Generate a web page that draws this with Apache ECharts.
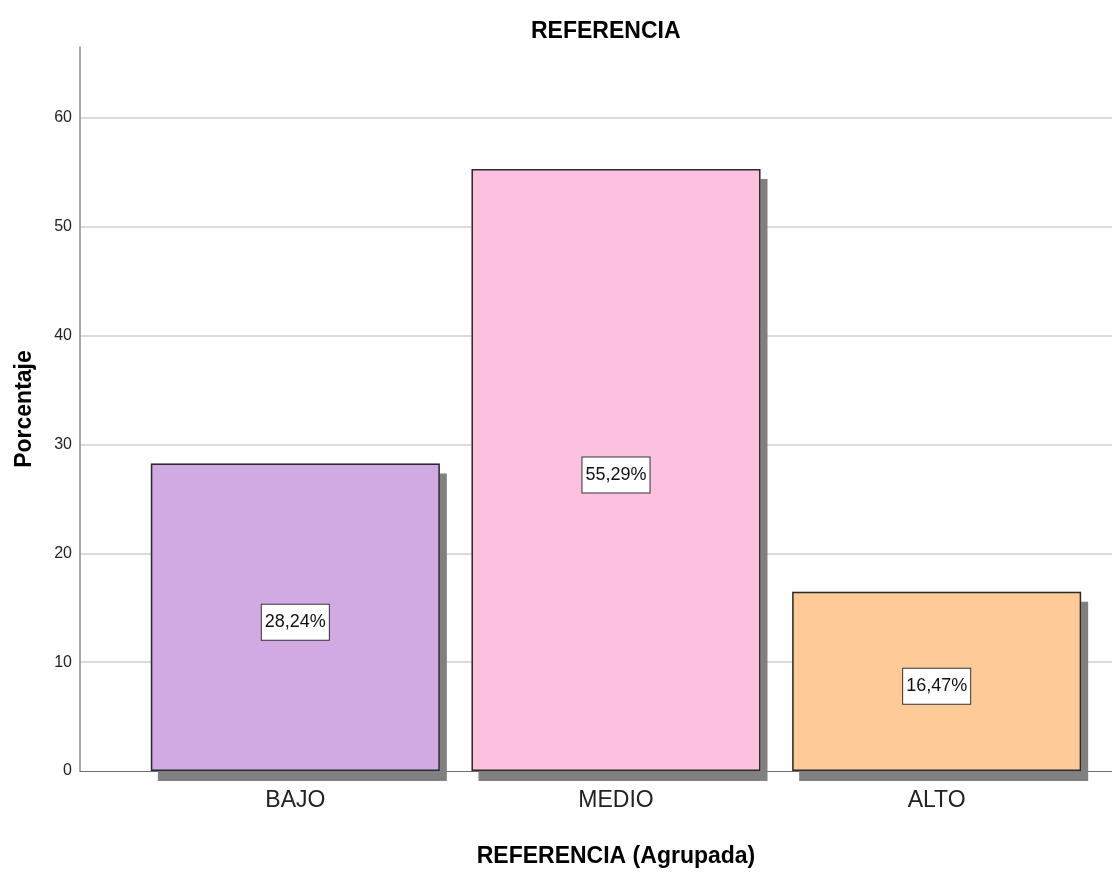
<!DOCTYPE html>
<html>
<head>
<meta charset="utf-8">
<title>REFERENCIA</title>
<script src="https://cdn.jsdelivr.net/npm/echarts@6/dist/echarts.min.js"></script>
<style>
  html, body { margin: 0; padding: 0; background: #fff; }
  #chart { width: 1112px; height: 874px; }
</style>
</head>
<body>
<div id="chart"></div>
<script>
// datos del grafico
var categories = ['BAJO', 'MEDIO', 'ALTO'];
var porcentajes = [28.24, 55.29, 16.47];
var barColors = ['#d1aae4', '#fdc1e0', '#fecb98'];

var font = "'Liberation Sans Narrow', 'Arial Narrow', 'Liberation Sans', Arial, sans-serif";
var yMax = 66.5;

var chart = echarts.init(document.getElementById('chart'));

function barData() {
  return porcentajes.map(function (v, i) {
    return { value: v, itemStyle: { color: barColors[i] } };
  });
}

var option = {
  backgroundColor: '#fff',
  animation: false,
  title: {
    text: 'REFERENCIA',
    left: 526,
    top: 15,
    textStyle: { fontFamily: font, fontSize: 23, fontWeight: 'bold', color: '#000' }
  },
  grid: [
    // grid 0: ejes y lineas de fondo
    { left: 80, right: 0, top: 47, bottom: 103 },
    // grid 1: barras
    { left: 135, right: 15, top: 47, bottom: 103 }
  ],
  xAxis: [{
    gridIndex: 0,
    type: 'value',
    min: 0,
    max: 1,
    axisLine: { show: true, lineStyle: { color: '#6e6e6e', width: 1 } },
    axisTick: { show: false },
    axisLabel: { show: false },
    splitLine: { show: false }
  }, {
    gridIndex: 1,
    type: 'category',
    data: categories,
    axisLine: { show: false },
    axisTick: { show: false },
    axisLabel: { margin: 18, fontFamily: font, fontSize: 23, color: '#222' },
    name: 'REFERENCIA (Agrupada)',
    nameLocation: 'middle',
    nameGap: 74,
    nameTextStyle: { fontFamily: font, fontSize: 23, fontWeight: 'bold', color: '#000' }
  }],
  yAxis: [{
    gridIndex: 0,
    type: 'value',
    min: 0,
    max: yMax,
    interval: 10,
    axisLine: { show: true, lineStyle: { color: '#8c8c8c', width: 1.5 } },
    axisTick: { show: false },
    axisLabel: {
      margin: 8,
      fontFamily: font,
      fontSize: 16,
      color: '#222',
      showMaxLabel: false
    },
    splitLine: {
      show: true,
      showMinLine: false,
      showMaxLine: false,
      lineStyle: { color: '#cfcfcf', width: 1.5 }
    },
    name: 'Porcentaje',
    nameLocation: 'middle',
    nameGap: 44,
    nameTextStyle: { fontFamily: font, fontSize: 23, fontWeight: 'bold', color: '#000' }
  }, {
    gridIndex: 1,
    type: 'value',
    min: 0,
    max: yMax,
    show: false,
    splitLine: { show: false }
  }],
  series: [{
    // sombra de las barras (debajo)
    type: 'bar',
    xAxisIndex: 1,
    yAxisIndex: 1,
    barWidth: 289,
    barGap: '-100%',
    z: 2,
    silent: true,
    data: barData(),
    itemStyle: {
      borderWidth: 0,
      shadowColor: '#808080',
      shadowBlur: 0,
      shadowOffsetX: 7,
      shadowOffsetY: 10
    }
  }, {
    type: 'bar',
    xAxisIndex: 1,
    yAxisIndex: 1,
    barWidth: 289,
    barGap: '-100%',
    z: 3,
    data: barData(),
    itemStyle: {
      borderColor: '#2b2b2b',
      borderWidth: 1.5
    },
    label: {
      show: true,
      position: 'inside',
      offset: [0, 5],
      formatter: function (p) {
        return p.value.toFixed(2).replace('.', ',') + '%';
      },
      fontFamily: font,
      fontSize: 18,
      color: '#111',
      backgroundColor: '#fff',
      borderColor: '#333',
      borderWidth: 1,
      padding: [9, 3, 8, 3]
    }
  }]
};

chart.setOption(option);
</script>
</body>
</html>
